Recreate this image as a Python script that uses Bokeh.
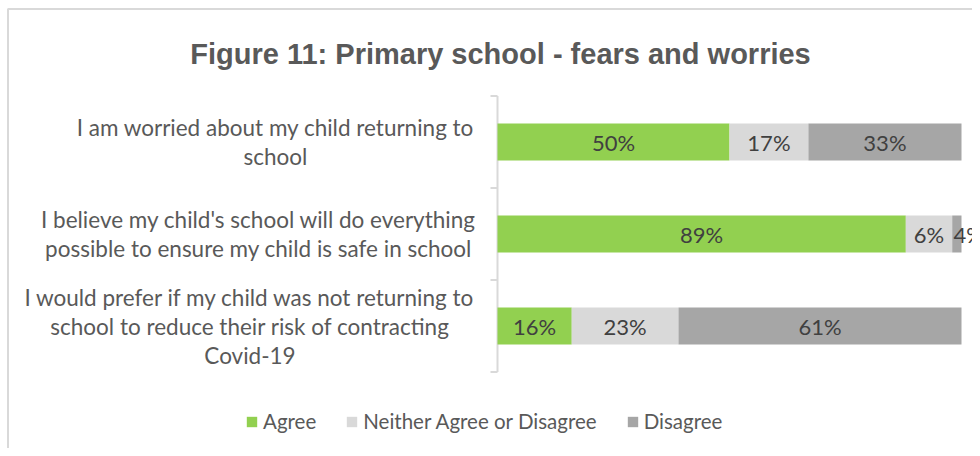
from bokeh.plotting import figure
from bokeh.models import Range1d, ColumnDataSource, Label
from bokeh.core.properties import value
from bokeh.embed import file_html
from bokeh.resources import INLINE

# ---------------- data ----------------
title_text = "Figure 11: Primary school - fears and worries"
categories = [
    ["I am worried about my child returning to", "school"],
    ["I believe my child's school will do everything", "possible to ensure my child is safe in school"],
    ["I would prefer if my child was not returning to", "school to reduce their risk of contracting", "Covid-19"],
]
series = ["Agree", "Neither Agree or Disagree", "Disagree"]
agree = [50, 88, 16]
neither = [17, 10, 23]
disagree = [33, 2, 61]
agree_labels = ["50%", "89%", "16%"]
neither_labels = ["17%", "6%", "23%"]
disagree_labels = ["33%", "4%", "61%"]

colors = ["#92d050", "#d9d9d9", "#a6a6a6"]

# ---------------- layout (pixels) ----------------
W, H = 972, 448
AXIS_X = 497          # pixel of 0 %
PX_PER_PCT = 4.64     # pixels per percent
CAT_TOP = 95.5        # pixel of top category boundary
CAT_PX = 92           # pixels per category
n = len(categories)

x_start = -AXIS_X / PX_PER_PCT
x_end = (W - AXIS_X) / PX_PER_PCT
y_end = n + CAT_TOP / CAT_PX
y_start = n - (H - CAT_TOP) / CAT_PX


def dx(px):
    return (px - AXIS_X) / PX_PER_PCT


def dy(py):
    return n - (py - CAT_TOP) / CAT_PX


ypos = [n - i - 0.5 for i in range(n)]

src = ColumnDataSource(dict(y=ypos, Agree=agree, Neither=neither, Disagree=disagree))

p = figure(width=W, height=H, output_backend="svg", toolbar_location=None,
           x_range=Range1d(x_start, x_end), y_range=Range1d(y_start, y_end),
           min_border=0, x_axis_location=None, y_axis_location=None)
p.border_fill_color = "white"
p.background_fill_color = "white"
p.outline_line_color = None
p.xgrid.visible = False
p.ygrid.visible = False

# chart-area border (left and top)
p.line(x=[dx(7.5), dx(7.5), dx(W + 5)], y=[dy(H + 5), dy(8.5), dy(8.5)],
       line_color="#d9d9d9", line_width=2)

# category axis line and boundary ticks
tick_len = 7 / PX_PER_PCT
p.segment(x0=[0], y0=[0], x1=[0], y1=[n], line_color="#d9d9d9", line_width=2)
p.segment(x0=[-tick_len] * (n + 1), y0=list(range(n + 1)), x1=[0] * (n + 1), y1=list(range(n + 1)),
          line_color="#d9d9d9", line_width=2)

renderers = p.hbar_stack(["Agree", "Neither", "Disagree"], y="y", height=0.4, color=colors,
                         source=src, legend_label=series, line_color=None)

# data labels
lab_x, lab_y, lab_t, lab_align = [], [], [], []
for i in range(n):
    start = 0
    for vals, labs in ((agree, agree_labels), (neither, neither_labels), (disagree, disagree_labels)):
        v = vals[i]
        if v < 5:
            lab_x.append(start + 0.3)
            lab_align.append("left")
        else:
            lab_x.append(start + v / 2)
            lab_align.append("center")
        lab_y.append(ypos[i])
        lab_t.append(labs[i])
        start += v
p.text(x="x", y="y", text="t", text_align="a",
       source=ColumnDataSource(dict(x=lab_x, y=lab_y, t=lab_t, a=lab_align)),
       text_baseline="middle", text_font=value("Lato"), text_font_size="22px",
       text_color="#404040")

# category labels (multi-line, centred lines)
label_centers = [275, 258, 249.5]
LINE_PX = 29
for i, lines in enumerate(categories):
    k = len(lines)
    for j, line in enumerate(lines):
        off = (j - (k - 1) / 2) * LINE_PX / CAT_PX
        p.add_layout(Label(x=dx(label_centers[i]), y=ypos[i] - off, text=line,
                           text_align="center", text_baseline="middle",
                           text_font="Lato", text_font_size="22.5px", text_color="#595959"))

# title
p.add_layout(Label(x=dx(500), y=dy(53), text=title_text, text_align="center",
                   text_baseline="alphabetic", text_font="Liberation Sans",
                   text_font_style="bold", text_font_size="29px", text_color="#595959"))

# legend
leg = p.legend[0]
leg.orientation = "horizontal"
leg.location = (245, H - 433)
leg.border_line_color = None
leg.background_fill_color = None
leg.padding = 0
leg.margin = 0
leg.spacing = 29
leg.glyph_width = 13
leg.glyph_height = 13
leg.label_height = 20
leg.label_standoff = 5
leg.label_text_font = "Lato"
leg.label_text_font_size = "20.5px"
leg.label_text_color = "#595959"

open("out.html", "w").write(file_html(p, INLINE))
